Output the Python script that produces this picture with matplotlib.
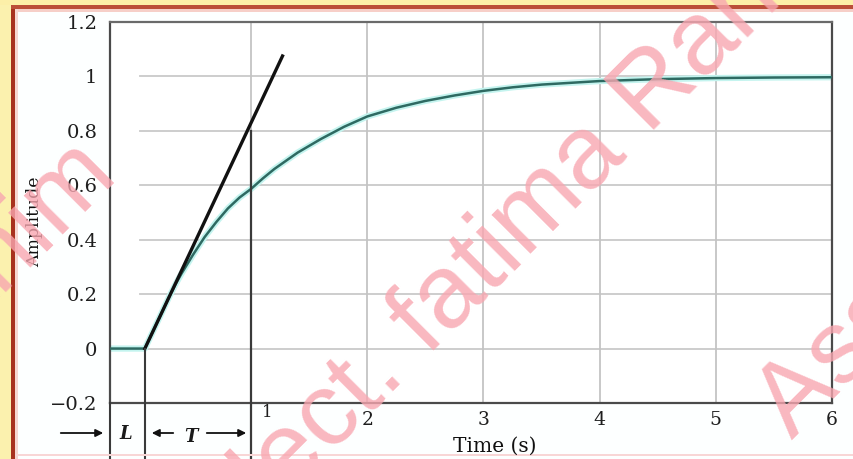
import numpy as np
import matplotlib
matplotlib.use("Agg")
import matplotlib.pyplot as plt
from matplotlib.patches import Rectangle

# step response
time_s = [-0.215, 0.085, 0.15, 0.2, 0.25, 0.3, 0.35, 0.4, 0.5, 0.6, 0.7, 0.8, 0.9,
          1.0, 1.1, 1.2, 1.4, 1.6, 1.8, 2.0, 2.25, 2.5, 2.75, 3.0, 3.25, 3.5,
          4.0, 4.5, 5.0, 5.5, 6.0]
amplitude = [0.0, 0.0, 0.059, 0.104, 0.15, 0.195, 0.237, 0.275, 0.345, 0.41, 0.465,
             0.515, 0.555, 0.587, 0.625, 0.66, 0.72, 0.77, 0.815, 0.853, 0.885,
             0.91, 0.93, 0.947, 0.96, 0.97, 0.983, 0.99, 0.994, 0.996, 0.997]

# tangent at the inflection point
tangent_t = [0.085, 1.27]
tangent_y = [0.0, 1.075]

L_end = 0.085      # dead time marker
T_end = 1.0        # L + T marker
T_top = 0.8

x_ticks = [1, 2, 3, 4, 5, 6]
x_labels = ['', '2', '3', '4', '5', '6']
y_ticks = [-0.2, 0, 0.2, 0.4, 0.6, 0.8, 1.0, 1.2]
y_labels = ['\u22120.2', '0', '0.2', '0.4', '0.6', '0.8', '1', '1.2']

W, H = 854, 459
fig = plt.figure(figsize=(W / 100, H / 100), dpi=100)
fig.patch.set_facecolor('#fdffff')

def px_rect(x, y, w, h, color, **kw):
    # rectangle in image pixels (y from top)
    fig.add_artist(Rectangle((x / W, 1 - (y + h) / H), w / W, h / H,
                             transform=fig.transFigure, color=color, lw=0, **kw))

# slide frame
px_rect(0, 0, 12, H, '#fbf1ae')
px_rect(0, 0, W, 5, '#fcefa8')
px_rect(11, 5, 4, H, '#a8321e')
px_rect(11, 5, W, 4, '#bb4e38')
px_rect(15, 9, W, 3, '#f6cfc8')
px_rect(15, 9, 3, H, '#f6d6d0')
px_rect(15, 454, W, 2, '#f8d6d6')

ax = fig.add_axes([110 / W, 1 - 403 / H, (832 - 110) / W, (403 - 22) / H])
ax.set_facecolor('white')
ax.set_xlim(-0.215, 6)
ax.set_ylim(-0.2, 1.2)

# grid
for yt in y_ticks[1:-1]:
    ax.plot([0.04, 6], [yt, yt], color='#c9c9c9', lw=1.3, zorder=1)
for xt in x_ticks[:-1]:
    ax.plot([xt, xt], [-0.2, 1.2], color='#c4c4c4', lw=1.3, zorder=1)

ax.plot(time_s, amplitude, color='#c4f4ef', lw=4.5, solid_capstyle='round', zorder=2)
ax.plot(time_s, amplitude, color='#2e6a62', lw=1.8, zorder=3)
ax.plot(tangent_t, tangent_y, color='#111111', lw=2.4, zorder=4)

# marker lines running below the axis
ax.plot([L_end, L_end], [0, -0.41], color='#3a3a3a', lw=1.5, clip_on=False, zorder=5)
ax.plot([T_end, T_end], [T_top, -0.41], color='#3a3a3a', lw=1.6, clip_on=False, zorder=5)
ax.plot([-0.215, -0.215], [-0.2, -0.41], color='#3a3a3a', lw=1.5, clip_on=False, zorder=5)

for s in ax.spines.values():
    s.set_color('#4a4a4a')
    s.set_linewidth(1.6)
ax.spines['top'].set_color('#6a6a6a')

serif = 'DejaVu Serif'
ax.set_xticks(x_ticks)
ax.set_xticklabels(x_labels, family=serif, fontsize=13.5, color='#1e1e1e')
ax.set_yticks(y_ticks)
ax.set_yticklabels(y_labels, family=serif, fontsize=14, color='#1e1e1e')
ax.tick_params(axis='y', length=0, pad=9)
ax.tick_params(axis='x', length=0, pad=6)
ax.text(1.14, -0.205, '1', family=serif, fontsize=12, color='#1e1e1e',
        ha='center', va='top')

fig.text(495 / W, 1 - 446 / H, 'Time (s)', family=serif, fontsize=14.5,
         color='#111111', ha='center', va='center')
fig.text(35 / W, 1 - 222 / H, 'Amplitude', family=serif, fontsize=12.5,
         color='#111111', ha='center', va='center', rotation=90)
fig.text(126 / W, 1 - 434 / H, 'L', family=serif, fontsize=13, style='italic',
         weight='bold', color='#1a1a1a', ha='center', va='center')
fig.text(191 / W, 1 - 437 / H, 'T', family=serif, fontsize=13, style='italic',
         weight='bold', color='#1a1a1a', ha='center', va='center')

arrow = dict(arrowstyle='-|>', color='#111111', lw=1.3, mutation_scale=11)
ax.annotate('', xy=(106, H - 433), xytext=(58, H - 433),
            xycoords='figure pixels', textcoords='figure pixels', arrowprops=arrow)
ax.annotate('', xy=(149, H - 433), xytext=(176, H - 433),
            xycoords='figure pixels', textcoords='figure pixels', arrowprops=arrow)
ax.annotate('', xy=(249, H - 433), xytext=(204, H - 433),
            xycoords='figure pixels', textcoords='figure pixels', arrowprops=arrow)

# watermark
wm = dict(family='Liberation Sans', fontsize=75, color='#f8a6b0', alpha=0.8,
          rotation=45, rotation_mode='anchor', va='baseline', zorder=20)
fig.text(272 / W, 1 - 512 / H, 'lect. fatima Rahim', ha='left', **wm)
fig.text(120 / W, 1 - 178 / H, 'Asst. lect. fatima Rahim', ha='right', **wm)
fig.text(792 / W, 1 - 440 / H, 'Asst. lect. fatima Rahim', ha='left', **wm)

fig.savefig('out.png', dpi=100)
